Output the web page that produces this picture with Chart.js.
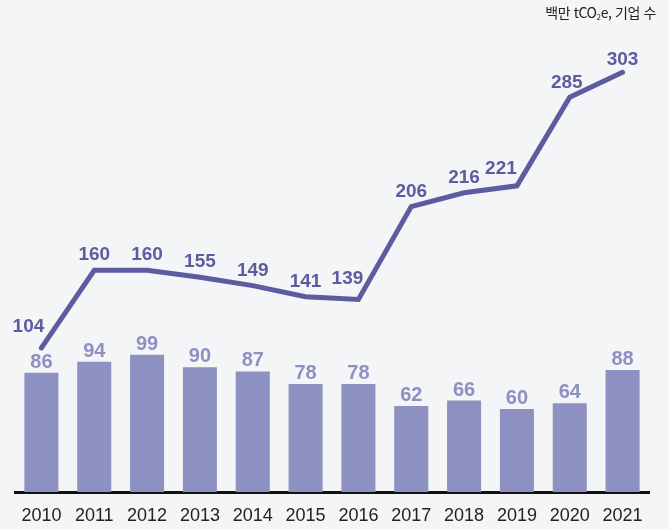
<!DOCTYPE html>
<html lang="ko">
<head>
<meta charset="utf-8">
<script src="https://cdn.jsdelivr.net/npm/chart.js@4/dist/chart.umd.min.js"></script>
<style>
  html, body { margin: 0; padding: 0; background: #f4f5f7; }
  #wrap { position: relative; width: 669px; height: 529px; }
  #unit {
    position: absolute; right: 13px; top: 2px;
    font-family: "Noto Sans CJK KR", "Noto Sans", sans-serif;
    font-size: 14px; color: #222; letter-spacing: -0.4px; white-space: nowrap;
  }
  #unit sub { font-size: 8px; vertical-align: -2px; }
</style>
</head>
<body>
<div id="wrap">
  <canvas id="chart" width="669" height="529"></canvas>
  <div id="unit">백만 tCO<sub>2</sub>e, 기업 수</div>
</div>
<script>
// Years on the x axis
const years = ['2010', '2011', '2012', '2013', '2014', '2015', '2016', '2017', '2018', '2019', '2020', '2021'];
// Emissions, million tCO2e (bars)
const emissions = [86, 94, 99, 90, 87, 78, 78, 62, 66, 60, 64, 88];
// Number of companies (line)
const companies = [104, 160, 160, 155, 149, 141, 139, 206, 216, 221, 285, 303];

const BAR_COLOR = '#8c91c2';
const LINE_COLOR = '#5c5ca0';
const BAR_LABEL_FONT = 'bold 20px "Liberation Sans", Arial, sans-serif';
const LINE_LABEL_FONT = 'bold 19px "Liberation Sans", Arial, sans-serif';

// Label nudges for points where the line would cross the text
const lineLabelShift = { 0: [-13, -6], 6: [-11, -5], 9: [-16, -2], 10: [-3, 1], 11: [0, 3] };

const valueLabels = {
  id: 'valueLabels',
  afterDatasetsDraw(chart) {
    const ctx = chart.ctx;
    ctx.save();
    ctx.textAlign = 'center';
    ctx.textBaseline = 'alphabetic';

    const barMeta = chart.getDatasetMeta(1);
    ctx.font = BAR_LABEL_FONT;
    ctx.fillStyle = BAR_COLOR;
    barMeta.data.forEach((el, i) => {
      ctx.fillText(String(emissions[i]), el.x, el.y - 5);
    });

    const lineMeta = chart.getDatasetMeta(0);
    ctx.font = LINE_LABEL_FONT;
    ctx.fillStyle = LINE_COLOR;
    lineMeta.data.forEach((el, i) => {
      const [dx, dy] = lineLabelShift[i] || [0, 0];
      ctx.fillText(String(companies[i]), el.x + dx, el.y - 10 + dy);
    });
    ctx.restore();
  }
};

new Chart(document.getElementById('chart'), {
  data: {
    labels: years,
    datasets: [
      {
        type: 'line',
        data: companies,
        borderColor: LINE_COLOR,
        borderWidth: 5,
        borderCapStyle: 'round',
        borderJoinStyle: 'miter',
        pointRadius: 0,
        tension: 0,
        order: 0
      },
      {
        type: 'bar',
        data: emissions,
        backgroundColor: BAR_COLOR,
        barPercentage: 0.644,
        categoryPercentage: 1.0,
        order: 1
      }
    ]
  },
  options: {
    responsive: false,
    animation: false,
    layout: { padding: { top: 21, left: 15, right: 20, bottom: 0 } },
    plugins: { legend: { display: false }, tooltip: { enabled: false } },
    scales: {
      x: {
        offset: true,
        grid: { display: false, drawTicks: false },
        border: { display: true, color: '#111', width: 3 },
        ticks: {
          padding: 13,
          color: '#222',
          font: { family: '"Liberation Sans", Arial, sans-serif', size: 18 }
        },
        afterFit(scale) { scale.height = 37; }
      },
      y: { display: false, min: 0, max: 340 }
    }
  },
  plugins: [valueLabels]
});
</script>
</body>
</html>
